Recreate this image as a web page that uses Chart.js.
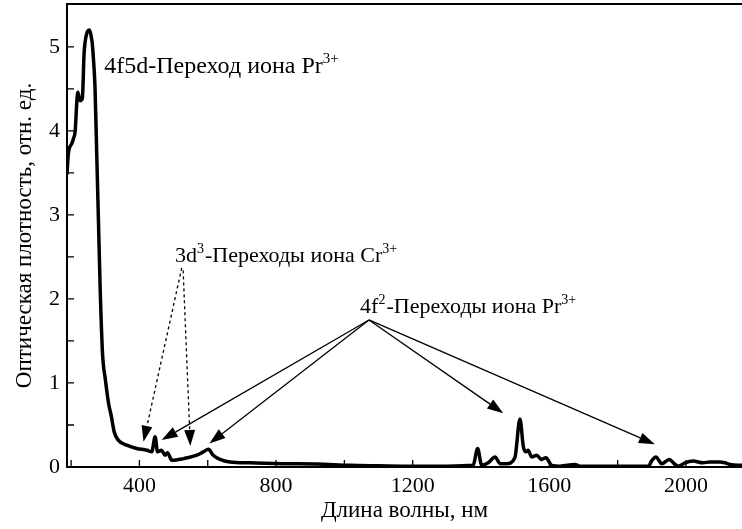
<!DOCTYPE html>
<html>
<head>
<meta charset="utf-8">
<script src="https://cdn.jsdelivr.net/npm/chart.js@4"></script>
<style>
  body { margin: 0; background: #fff; }
  #wrap { width: 742px; height: 529px; }
</style>
</head>
<body>
<div id="wrap"><canvas id="spectrum"></canvas></div>
<script>
// absorption spectrum
const wavelengths = [
  188, 192, 202, 207, 212, 217, 220, 226, 233, 238, 246, 254, 259, 262, 265, 270,
  275, 280, 285, 292, 300, 310, 318, 326, 338, 363, 392, 422, 436, 446, 453, 465,
  475, 482, 495, 529, 568, 587, 602, 616, 636, 665, 724, 820, 919, 1017, 1100, 1200,
  1300, 1377, 1390, 1402, 1421, 1441, 1456, 1475, 1499, 1514, 1524, 1532, 1538, 1548,
  1563, 1577, 1590, 1607, 1631, 1675, 1690, 1800, 1890, 1899, 1912, 1929, 1951, 1968,
  1978, 1997, 2021, 2050, 2070, 2099, 2114, 2129, 2164
];
const density = [
  3.49, 3.73, 3.85, 3.91, 4.0, 4.36, 4.46, 4.36, 4.39, 4.92, 5.16, 5.2, 5.12, 5.04, 4.88, 4.52,
  3.73, 2.94, 2.14, 1.35, 1.05, 0.75, 0.6, 0.42, 0.32, 0.26, 0.22, 0.2, 0.18, 0.36, 0.18, 0.2,
  0.14, 0.17, 0.08, 0.1, 0.14, 0.18, 0.21, 0.14, 0.09, 0.06, 0.05, 0.04, 0.035, 0.02, 0.015, 0.01,
  0.01, 0.02, 0.22, 0.02, 0.05, 0.12, 0.04, 0.04, 0.11, 0.57, 0.24, 0.18, 0.2, 0.12,
  0.14, 0.09, 0.11, 0.02, 0.01, 0.03, 0.01, 0.01, 0.01, 0.07, 0.12, 0.04, 0.09, 0.03,
  0.01, 0.05, 0.07, 0.05, 0.06, 0.06, 0.05, 0.03, 0.02
];
const xTicks = [200, 400, 600, 800, 1000, 1200, 1400, 1600, 1800, 2000];
const yTicks = [0, 0.5, 1, 1.5, 2, 2.5, 3, 3.5, 4, 4.5, 5];

// annotations, in data units (nm, density)
const prUvLabel = [['4f5d-Переход иона Pr'], ['3+', true]];
const prUvAt = [297, 4.69];
const crLabel = [['3d'], ['3', true], ['-Переходы иона Cr'], ['3+', true]];
const crAt = [504, 2.44];
const crArrowFrom = [[524, 2.37], [528, 2.34]];
const crArrowTo = [[412, 0.30], [549, 0.25]];
const prIrLabel = [['4f'], ['2', true], ['-Переходы иона Pr'], ['3+', true]];
const prIrAt = [1046, 1.83];
const prArrowFrom = [1072, 1.75];
const prArrowTo = [[465, 0.32], [605, 0.28], [1465, 0.64], [1909, 0.27]];

const serif = '"Liberation Serif", "Times New Roman", serif';

function richText(ctx, parts, x, y, size) {
  ctx.textAlign = 'left';
  ctx.textBaseline = 'alphabetic';
  parts.forEach(([t, sup]) => {
    ctx.font = (sup ? Math.round(size * 0.64) : size) + 'px ' + serif;
    ctx.fillText(t, x, sup ? y - size * 0.42 : y);
    x += ctx.measureText(t).width + (sup ? 1 : 0);
  });
}

function arrow(ctx, x1, y1, x2, y2, dashed) {
  const ang = Math.atan2(y2 - y1, x2 - x1);
  const len = 16, half = 5.5;
  const bx = x2 - len * Math.cos(ang), by = y2 - len * Math.sin(ang);
  ctx.save();
  ctx.lineWidth = 1.3;
  if (dashed) ctx.setLineDash([3, 3]);
  ctx.beginPath();
  ctx.moveTo(x1, y1);
  ctx.lineTo(bx, by);
  ctx.stroke();
  ctx.setLineDash([]);
  ctx.beginPath();
  ctx.moveTo(x2, y2);
  ctx.lineTo(bx + half * Math.sin(ang), by - half * Math.cos(ang));
  ctx.lineTo(bx - half * Math.sin(ang), by + half * Math.cos(ang));
  ctx.closePath();
  ctx.fill();
  ctx.restore();
}

const framePlugin = {
  id: 'frame',
  afterDraw(chart) {
    const {ctx, chartArea: a, scales: {x, y}} = chart;
    const px = v => x.getPixelForValue(v);
    const py = v => y.getPixelForValue(v);
    ctx.save();
    ctx.strokeStyle = '#000';
    ctx.fillStyle = '#000';

    ctx.lineWidth = 2;
    ctx.beginPath();
    ctx.moveTo(a.right + 2, a.top);
    ctx.lineTo(a.left, a.top);
    ctx.lineTo(a.left, a.bottom);
    ctx.lineTo(a.right + 2, a.bottom);
    ctx.stroke();

    ctx.lineWidth = 1.3;
    ctx.beginPath();
    xTicks.forEach(v => { ctx.moveTo(px(v), a.bottom); ctx.lineTo(px(v), a.bottom - 7); });
    yTicks.forEach(v => { ctx.moveTo(a.left, py(v)); ctx.lineTo(a.left + 7, py(v)); });
    ctx.stroke();

    richText(ctx, prUvLabel, px(prUvAt[0]), py(prUvAt[1]), 24);
    richText(ctx, crLabel, px(crAt[0]), py(crAt[1]), 22);
    richText(ctx, prIrLabel, px(prIrAt[0]), py(prIrAt[1]), 22);

    crArrowFrom.forEach((f, i) => {
      const t = crArrowTo[i];
      arrow(ctx, px(f[0]), py(f[1]), px(t[0]), py(t[1]), true);
    });
    prArrowTo.forEach(t => {
      arrow(ctx, px(prArrowFrom[0]), py(prArrowFrom[1]), px(t[0]), py(t[1]), false);
    });
    ctx.restore();
  }
};

const config = {
  type: 'line',
  data: {
    datasets: [{
      data: wavelengths.map((w, i) => ({x: w, y: density[i]})),
      borderColor: '#000',
      borderWidth: 3.5,
      pointRadius: 0,
      fill: false,
      cubicInterpolationMode: 'monotone',
      borderJoinStyle: 'round',
      borderCapStyle: 'round',
    }],
  },
  options: {
    responsive: true,
    maintainAspectRatio: false,
    animation: false,
    layout: { padding: { top: 4, left: 0, right: 0, bottom: 0 } },
    plugins: { legend: { display: false }, tooltip: { enabled: false } },
    scales: {
      x: {
        type: 'linear',
        min: 188,
        max: 2164,
        afterBuildTicks: s => { s.ticks = xTicks.map(v => ({value: v})); },
        afterFit: s => { s.height = 62; s.paddingLeft = 0; s.paddingRight = 0; },
        grid: { display: false, drawTicks: false },
        border: { display: false },
        ticks: {
          autoSkip: false,
          maxRotation: 0,
          padding: 6,
          color: '#000',
          font: { family: serif, size: 22 },
          callback: v => (v % 400 === 0 ? v : ''),
        },
        title: {
          display: true,
          text: 'Длина волны, нм',
          color: '#000',
          font: { family: serif, size: 23 },
          padding: { top: 0, bottom: 4 },
        },
      },
      y: {
        min: 0,
        max: 5.51,
        afterBuildTicks: s => { s.ticks = yTicks.map(v => ({value: v})); },
        afterFit: s => { s.width = 67; s.paddingTop = 0; s.paddingBottom = 0; },
        grid: { display: false, drawTicks: false },
        border: { display: false },
        ticks: {
          autoSkip: false,
          padding: 7,
          color: '#000',
          font: { family: serif, size: 22 },
          callback: v => (Number.isInteger(v) ? v : ''),
        },
        title: {
          display: true,
          text: 'Оптическая плотность, отн. ед.',
          color: '#000',
          font: { family: serif, size: 23 },
          padding: { top: 11, bottom: 0 },
        },
      },
    },
  },
  plugins: [framePlugin],
};

window.onload = function () {
  const ctx = document.getElementById('spectrum').getContext('2d');
  new Chart(ctx, config);
};
</script>
</body>
</html>
